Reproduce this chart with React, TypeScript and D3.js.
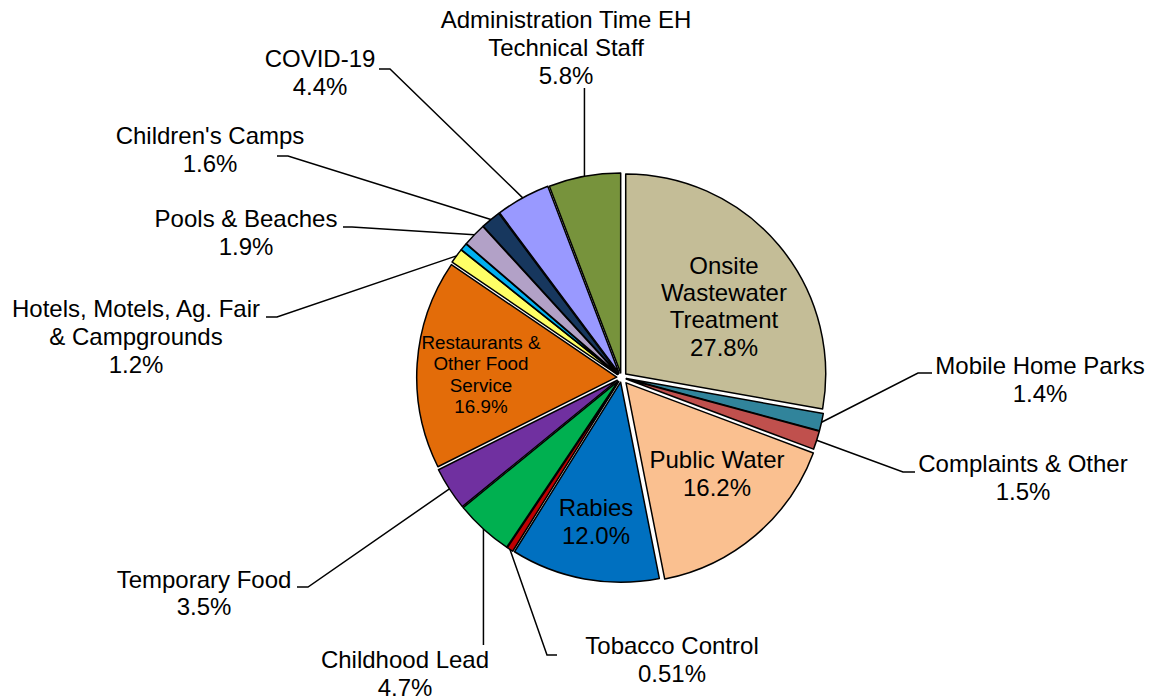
import React from "react";
import * as d3 from "d3";

// ---- Data ----
const categories = [
  "Onsite Wastewater Treatment",
  "Mobile Home Parks",
  "Complaints & Other",
  "Public Water",
  "Rabies",
  "Tobacco Control",
  "Childhood Lead",
  "Temporary Food",
  "Restaurants & Other Food Service",
  "Hotels, Motels, Ag. Fair & Campgrounds",
  "Other (unlabeled)",
  "Pools & Beaches",
  "Children's Camps",
  "COVID-19",
  "Administration Time EH Technical Staff",
];
const values = [27.8, 1.4, 1.5, 16.2, 12.0, 0.51, 4.7, 3.5, 16.9, 1.2, 0.59, 1.9, 1.6, 4.4, 5.8];
const labelLines = [
  ["Onsite", "Wastewater", "Treatment"],
  ["Mobile Home Parks"],
  ["Complaints & Other"],
  ["Public Water"],
  ["Rabies"],
  ["Tobacco Control"],
  ["Childhood Lead"],
  ["Temporary Food"],
  ["Restaurants &", "Other Food", "Service"],
  ["Hotels, Motels, Ag. Fair", "& Campgrounds"],
  [],
  ["Pools & Beaches"],
  ["Children's Camps"],
  ["COVID-19"],
  ["Administration Time EH", "Technical Staff"],
];
const colors = [
  "#C4BD97", "#31849B", "#C0504D", "#FAC090", "#0070C0", "#C00000", "#00B050",
  "#7030A0", "#E36C09", "#FFFF66", "#00B0F0", "#B2A1C7", "#17375E", "#9999FF", "#77933C",
];

// ---- Layout ----
const W = 1151;
const H = 700;
const CX = 621.5;
const CY = 377.5;
const R = 200;
const FONT = "'Liberation Sans', Arial, sans-serif";

type Layout = {
  x: number;
  y: number;
  size: number;
  lh: number;
  explode: number;
  elbow?: [number, number];
  end?: [number, number];
  vertEnd?: number;
  show: boolean;
};

const layout: Layout[] = [
  { x: 724, y: 265, size: 24, lh: 27.4, explode: 5.5, show: true },
  { x: 1040, y: 365, size: 24, lh: 28, explode: 5, elbow: [918, 373], end: [932, 373], show: true },
  { x: 1023, y: 463, size: 24, lh: 28, explode: 5, elbow: [903, 472], end: [915, 472], show: true },
  { x: 717, y: 459, size: 24, lh: 28, explode: 7, show: true },
  { x: 596, y: 507, size: 24, lh: 28, explode: 4.8, show: true },
  { x: 672, y: 645, size: 24, lh: 28, explode: 5, elbow: [547, 655], end: [557, 655], show: true },
  { x: 405, y: 659, size: 24, lh: 28, explode: 5, vertEnd: 645, show: true },
  { x: 204, y: 579, size: 24, lh: 27.5, explode: 5, elbow: [308, 587], end: [297, 587], show: true },
  { x: 481, y: 342, size: 18.8, lh: 21.6, explode: 4.8, show: true },
  { x: 136, y: 308, size: 24, lh: 28, explode: 5, elbow: [277, 317], end: [266, 317], show: true },
  { x: 0, y: 0, size: 0, lh: 0, explode: 5, show: false },
  { x: 246, y: 218, size: 24, lh: 28, explode: 5, elbow: [352, 227], end: [343, 227], show: true },
  { x: 210, y: 135, size: 24, lh: 28, explode: 5, elbow: [288, 156], end: [277, 156], show: true },
  { x: 320, y: 58, size: 24, lh: 28, explode: 5, elbow: [390, 69], end: [379, 69], show: true },
  { x: 566, y: 19, size: 24, lh: 28, explode: 4.5, vertEnd: 88, show: true },
];

const fmtPct = (v: number) => (v < 1 ? v.toFixed(2) : v.toFixed(1)) + "%";

export default function App() {
  const pie = d3
    .pie<number>()
    .sort(null)
    .value((d) => d)
    .startAngle(0)
    .endAngle(2 * Math.PI);
  const arcs = pie(values);
  const arcGen = d3.arc<d3.PieArcDatum<number>>().innerRadius(0).outerRadius(R);

  return (
    <svg
      width={W}
      height={H}
      style={{ position: "absolute", left: 0, top: 0, background: "#fff" }}
      fontFamily={FONT}
    >
      <g>
        {arcs.map((a, i) => {
          const mid = (a.startAngle + a.endAngle) / 2;
          const dx = Math.sin(mid) * layout[i].explode;
          const dy = -Math.cos(mid) * layout[i].explode;
          return (
            <path
              key={categories[i]}
              d={arcGen(a) || ""}
              transform={`translate(${CX + dx},${CY + dy})`}
              fill={colors[i]}
              stroke="#000"
              strokeWidth={1.5}
              strokeLinejoin="round"
            />
          );
        })}
      </g>
      <g fill="none" stroke="#000" strokeWidth={1.5}>
        {arcs.map((a, i) => {
          const L = layout[i];
          if (!L.show || (!L.elbow && L.vertEnd === undefined)) return null;
          const mid = (a.startAngle + a.endAngle) / 2;
          const rr = R + L.explode;
          const px = CX + Math.sin(mid) * rr;
          const py = CY - Math.cos(mid) * rr;
          const line = d3.line();
          let pts: [number, number][];
          if (L.vertEnd !== undefined) {
            pts = [
              [px, py],
              [px, L.vertEnd],
            ];
          } else {
            pts = [[px, py], L.elbow as [number, number], L.end as [number, number]];
          }
          return <path key={"l" + i} d={line(pts) || ""} />;
        })}
      </g>
      <g fill="#000">
        {arcs.map((a, i) => {
          const L = layout[i];
          if (!L.show) return null;
          const lines = [...labelLines[i], fmtPct(values[i])];
          return (
            <g key={"t" + i}>
              {lines.map((t, j) => (
                <text
                  key={j}
                  x={L.x}
                  y={L.y + j * L.lh}
                  textAnchor="middle"
                  dominantBaseline="central"
                  fontSize={L.size}
                >
                  {t}
                </text>
              ))}
            </g>
          );
        })}
      </g>
    </svg>
  );
}
